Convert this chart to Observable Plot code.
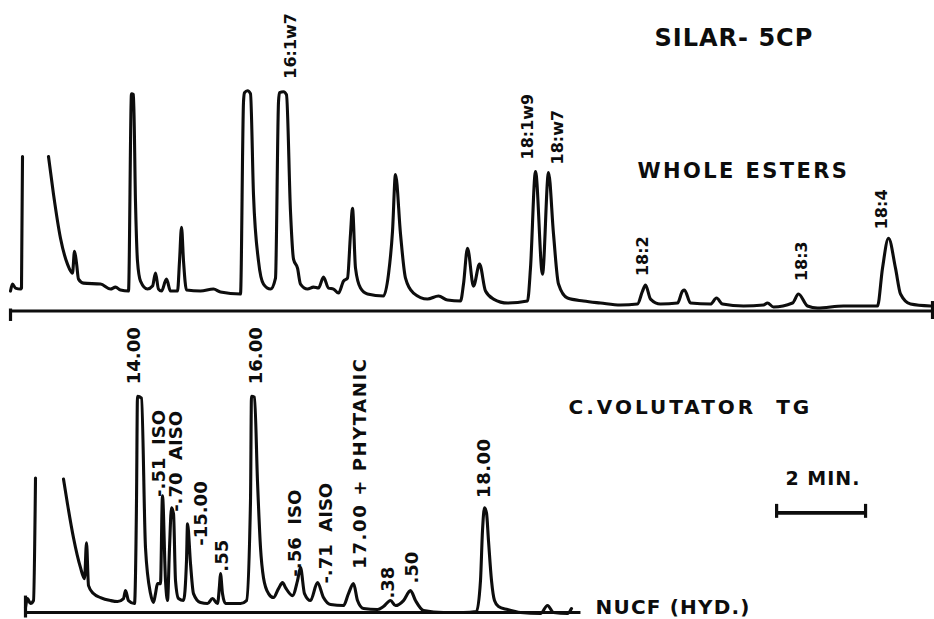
<!DOCTYPE html>
<html><head><meta charset="utf-8">
<script src="https://cdn.jsdelivr.net/npm/d3@7"></script>
<script src="https://cdn.jsdelivr.net/npm/@observablehq/plot@0.6"></script>
<style>html,body{margin:0;padding:0;background:#fff;} #chart svg{display:block;background:#fff;}</style>
</head><body><div id="chart"></div>
<script>
// Retention time (minutes) and detector signal (% of pen full scale)
const panelIds = ["whole", "nucf"];

// Upper trace: SILAR-5CP, whole esters (NaN = pen off scale)
const wholeTime = [0.225,0.27,0.337,0.45,0.472,0.495,0.78,1.079,1.192,1.349,1.506,1.619,1.664,1.709,1.754,1.866,2.248,2.473,2.586,2.698,2.878,2.945,2.99,3.035,3.08,3.148,3.305,3.418,3.485,3.552,3.62,3.732,3.822,3.98,4.025,4.07,4.115,4.182,4.497,4.789,4.946,5.396,5.464,5.486,5.554,5.621,5.688,5.801,5.913,6.071,6.183,6.251,6.273,6.363,6.43,6.52,6.588,6.678,6.745,6.903,7.037,7.15,7.262,7.375,7.487,7.6,7.712,7.802,7.869,7.914,7.982,8.094,8.252,8.611,8.724,8.814,8.881,8.994,9.106,9.286,9.601,9.848,10.05,10.343,10.41,10.5,10.635,10.77,10.905,11.085,11.4,11.849,11.916,12.029,12.186,12.321,12.434,12.546,12.748,13.108,13.49,13.94,14.322,14.435,14.502,14.615,14.839,15.222,15.334,15.379,15.514,15.964,16.099,16.233,16.706,17.155,17.245,17.38,17.807,17.942,18.144,18.369,18.954,19.718,19.831,19.966,20.123,20.236,20.461,20.91];
const wholeSignal = [-0.25,3.25,1.25,0.75,1.25,67.25,NaN,67.25,48.25,26.25,13.25,8.75,19.75,13.75,5.75,3.75,3.25,0.75,1.75,0.25,-0.25,98.75,98.25,44.75,14.75,4.75,0.75,2.25,8.75,0.75,-0.25,5.75,-0.25,-0.25,14.75,31.75,14.75,0.25,-0.25,0.75,-0.75,-1.75,94.75,99.25,100.25,98.75,48.25,14.75,3.25,0.75,6.25,94.75,99.25,99.75,98.25,39.75,15.75,11.25,3.25,0.75,1.75,1.25,6.75,1.25,0.75,-1.25,4.75,6.25,28.25,41.25,11.25,1.25,-1.75,-2.75,8.25,29.75,58.25,28.25,6.25,-1.25,-4.25,-2.75,-4.75,-5.25,3.25,21.25,2.25,13.25,-0.25,-4.25,-6.25,-5.25,11.25,59.75,8.25,59.25,28.25,3.25,-3.75,-5.25,-6.25,-7.25,-6.75,-0.25,2.75,-4.25,-6.75,-6.25,-0.25,0.25,-6.25,-6.75,-3.75,-6.75,-7.75,-7.25,-6.25,-8.25,-6.25,-1.75,-7.75,-8.75,-7.75,-7.75,11.25,26.25,11.25,-1.75,-6.75,-7.75];

// Lower trace: C. volutator TG, NUCF (hydrogenated)
const nucfTime = [0.562,0.607,0.675,0.742,0.787,1.1,1.416,1.506,1.641,1.799,1.889,1.934,1.979,2.091,2.248,2.473,2.631,2.766,2.811,2.878,3.013,3.058,3.08,3.17,3.26,3.373,3.44,3.485,3.53,3.597,3.642,3.71,3.755,3.8,3.845,3.89,3.935,4.002,4.115,4.182,4.205,4.272,4.339,4.497,4.654,4.767,4.879,4.924,4.946,4.991,5.059,5.396,5.531,5.621,5.643,5.711,5.778,5.846,5.913,6.026,6.138,6.251,6.341,6.408,6.565,6.678,6.745,6.835,6.97,7.127,7.262,7.42,7.712,7.824,7.937,8.027,8.162,8.476,8.611,8.769,8.881,9.061,9.218,9.331,9.511,9.96,10.41,10.702,10.792,10.837,10.882,10.927,10.972,11.04,11.107,11.197,11.4,11.692,12.141,12.299,12.434,12.748,12.838];
const nucfSignal = [-4,0.5,-2,-0.5,61,NaN,60.5,48,31,16,10.5,28.5,7,3,1,-0.5,-1,0.5,4.5,-0.5,-2,49.5,102,101,26,3,-1.5,3,8,8,52,9.5,-0.5,26,46,43,9.5,0.5,-0.5,19.5,38,18,3,-1.5,-2,0.5,-2,7,13,3,-2,-2,-0.5,49.5,102,101.5,59.5,26,11,3,1,5.5,8.5,6,2,9.5,16,3,-0.5,8.5,1,-2.5,-3,3,8,-0.5,-4.5,-5,-3.5,-0.5,-3,-0.5,4.5,-0.5,-5.5,-6.5,-6.5,-6,9.5,34.5,46,43.5,29.5,9.5,-0.5,-3.5,-5,-6.5,-7,-3,-6.5,-7,-4.5];

// Peak labels
const wholeLabels = ["16:1w7","18:1w9","18:w7","18:2","18:3","18:4"];
const wholeLabelTime = [6.52,11.849,12.524,14.435,18.01,19.809];
const wholeLabelSignal = [106.25,65.75,63.25,7.25,4.75,30.75];

const nucfLabels = ["14.00","16.00","‐.51  ISO","‐.70  AISO","‐15.00",".55","‐.56  ISO","‐.71  AISO","17.00 + PHYTANIC",".38",".50","18.00"];
const nucfLabelTime = [3.013,5.756,3.575,3.957,4.519,4.991,6.633,7.33,8.094,8.724,9.263,10.882];
const nucfLabelSignal = [108,108,51.5,44,27,14,11.5,8,15.5,0.5,8,51];

// Titles
const titleText = ["SILAR- 5CP","WHOLE ESTERS","C.VOLUTATOR  TG","2 MIN.","NUCF (HYD.)"];
const titlePanel = ["whole","whole","nucf","nucf","nucf"];
const titleTime = [14.705,14.322,12.771,17.65,13.378];
const titleSignal = [126.75,59.75,96.5,60.5,-4];

// Time axis baselines (chart paper lines)
const axisPanel = ["whole","nucf"];
const axisStart = [0.225,0.562];
const axisEnd = [20.955,13.04];
const axisLevel = [-10.25,-6.5];

// Scale bar: 2 minutes
const barStart = 17.45, barEnd = 19.45, barLevel = 43.5;

const trace = [
  ...wholeTime.map((t,i)=>({panel:"whole", t, s: wholeSignal[i]})),
  ...nucfTime.map((t,i)=>({panel:"nucf", t, s: nucfSignal[i]}))
];
const labels = [
  ...wholeLabels.map((text,i)=>({panel:"whole", text, t: wholeLabelTime[i], s: wholeLabelSignal[i]})),
  ...nucfLabels.map((text,i)=>({panel:"nucf", text, t: nucfLabelTime[i], s: nucfLabelSignal[i]}))
];
const titles = titleText.map((text,i)=>({panel: titlePanel[i], text, t: titleTime[i], s: titleSignal[i]}));
const axes = axisPanel.map((p,i)=>({panel:p, t1: axisStart[i], t2: axisEnd[i], s: axisLevel[i]}));
const ends = [
  {panel:"whole", t: axisStart[0], s1: axisLevel[0]+1.25, s2: axisLevel[0]-5},
  {panel:"whole", t: axisEnd[0], s1: axisLevel[0]+5, s2: axisLevel[0]-4},
  {panel:"nucf", t: axisStart[1], s1: axisLevel[1]+8.5, s2: axisLevel[1]-2.5},
  {panel:"nucf", t: barStart, s1: barLevel+4.5, s2: barLevel-2.5},
  {panel:"nucf", t: barEnd, s1: barLevel+4.5, s2: barLevel-2.5}
];
const bar = [{panel:"nucf", t1: barStart, t2: barEnd, s: barLevel}];

const ink = "#0d0d0d";
const labelFont = "'DejaVu Sans', 'Liberation Sans', sans-serif";
const titleFont = "'DejaVu Sans', 'Liberation Sans', sans-serif";

const chart = Plot.plot({
  width: 934,
  height: 619,
  margin: 0,
  x: {domain: [0, 21], axis: null},
  y: {domain: [-10, 145], axis: null},
  fy: {domain: panelIds, padding: 0, axis: null},
  style: {background: "#fff"},
  marks: [
    Plot.link(axes, {x1: "t1", x2: "t2", y1: "s", y2: "s", fy: "panel", stroke: ink, strokeWidth: 2.8}),
    Plot.link(bar, {x1: "t1", x2: "t2", y1: "s", y2: "s", fy: "panel", stroke: ink, strokeWidth: 3.8}),
    Plot.link(ends, {x1: "t", x2: "t", y1: "s1", y2: "s2", fy: "panel", stroke: ink, strokeWidth: 3.2}),
    Plot.line(trace, {x: "t", y: "s", fy: "panel", z: "panel", stroke: ink, strokeWidth: 3.1, curve: "monotone-x", strokeLinejoin: "round"}),
    Plot.text(labels, {x: "t", y: "s", fy: "panel", text: "text", rotate: -90, textAnchor: "start", lineAnchor: "middle", fontSize: d => d.panel === "nucf" ? 18 : 16, fontWeight: "bold", fontFamily: labelFont, fill: ink}),
    Plot.text(titles, {x: "t", y: "s", fy: "panel", text: "text", textAnchor: "start", lineAnchor: "middle", fontSize: 20, fontWeight: "bold", fontFamily: titleFont, fill: ink})
  ]
});

const spacing = {"SILAR- 5CP": [24, 1], "WHOLE ESTERS": [21, 2.4], "C.VOLUTATOR  TG": [20, 3], "2 MIN.": [19, 1], "NUCF (HYD.)": [20, 1.2], "17.00 + PHYTANIC": [18, 1.6], "14.00": [18, 0], "16.00": [18, 0], "18.00": [18, 0.5]};
d3.select(chart).selectAll("text").each(function() {
  const sp = spacing[this.textContent];
  if (sp) { d3.select(this).attr("font-size", sp[0]).attr("letter-spacing", sp[1]); }
});
document.getElementById("chart").appendChild(chart);
</script></body></html>
